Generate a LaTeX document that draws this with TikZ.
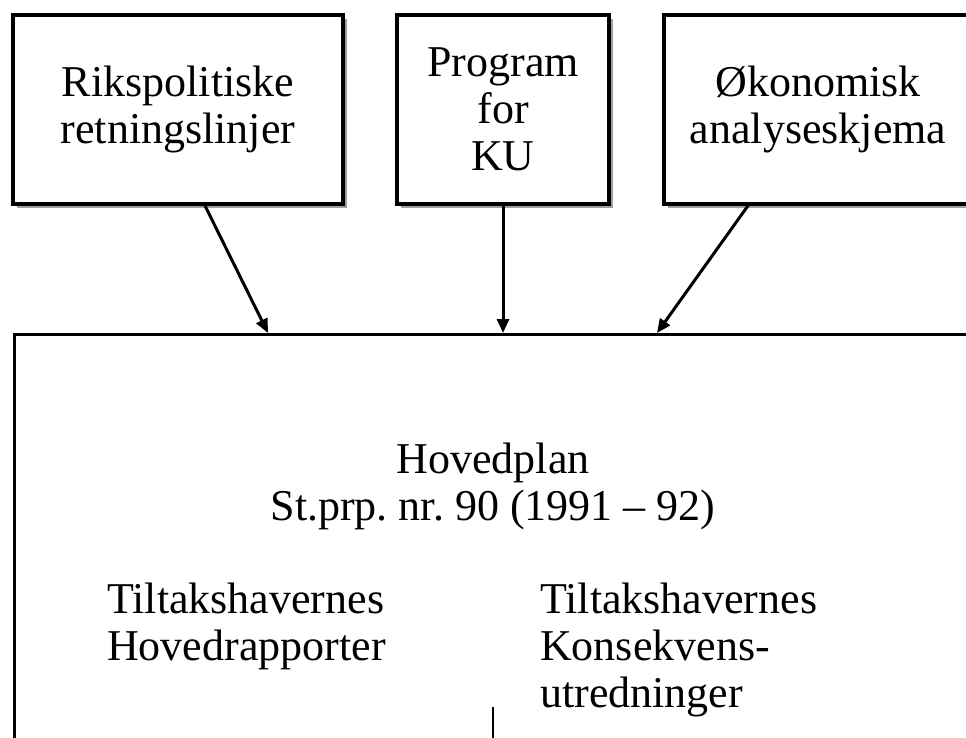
\documentclass[tikz,border=0pt]{standalone}
\usepackage{fontspec}
\setmainfont{Liberation Serif}
\usepackage{tikz}
\usetikzlibrary{arrows.meta}
\usetikzlibrary{shadows}

\tikzset{
  inbox/.style={draw, line width=3.4pt, fill=white, align=center,
    inner sep=0pt,
    drop shadow={shadow xshift=4pt, shadow yshift=-4pt, fill=gray!75, opacity=1}},
  inarrow/.style={line width=3pt, -{Triangle[length=14pt,width=12pt]}}
}

\begin{document}
\frenchspacing
\begin{tikzpicture}[x=1pt,y=-1pt,font=\rmfamily\fontsize{44}{47}\selectfont]
\clip (0,0) rectangle (966,738);
\fill[white] (0,0) rectangle (966,738);
\node[inbox, minimum width=330pt, minimum height=189pt] (riks) at (178,109.5) {Rikspolitiske\\retningslinjer};
\node[inbox, minimum width=212pt, minimum height=189pt] (ku) at (503,109.5) {Program\\for\\KU};
\node[inbox, minimum width=308pt, minimum height=189pt] (okon) at (818,109.5) {Økonomisk\\analyseskjema};
\node[draw, line width=3.4pt, minimum width=960pt, minimum height=500pt, anchor=north west] (plan) at (13,333) {};
\node[align=center, inner sep=0pt] (title) at (493,486) {Hovedplan\\St.prp. nr. 90 (1991 -- 92)};
\node[align=left, inner sep=0pt, anchor=north west] (rapp) at (107,583) {Tiltakshavernes\\Hovedrapporter};
\node[align=left, inner sep=0pt, anchor=north west] (konsek) at (540,583) {Tiltakshavernes\\Konsekvens-\\utredninger};
\coordinate (delt) at (493,707);
\draw[line width=2pt] (delt) -- (delt |- plan.south);
\draw[inarrow] ([xshift=27pt]riks.south) -- (plan.north -| 268,0);
\draw[inarrow] (ku.south) -- (plan.north -| ku.south);
\draw[inarrow] ([xshift=-70pt]okon.south) -- (plan.north -| 657,0);
\end{tikzpicture}
\end{document}
